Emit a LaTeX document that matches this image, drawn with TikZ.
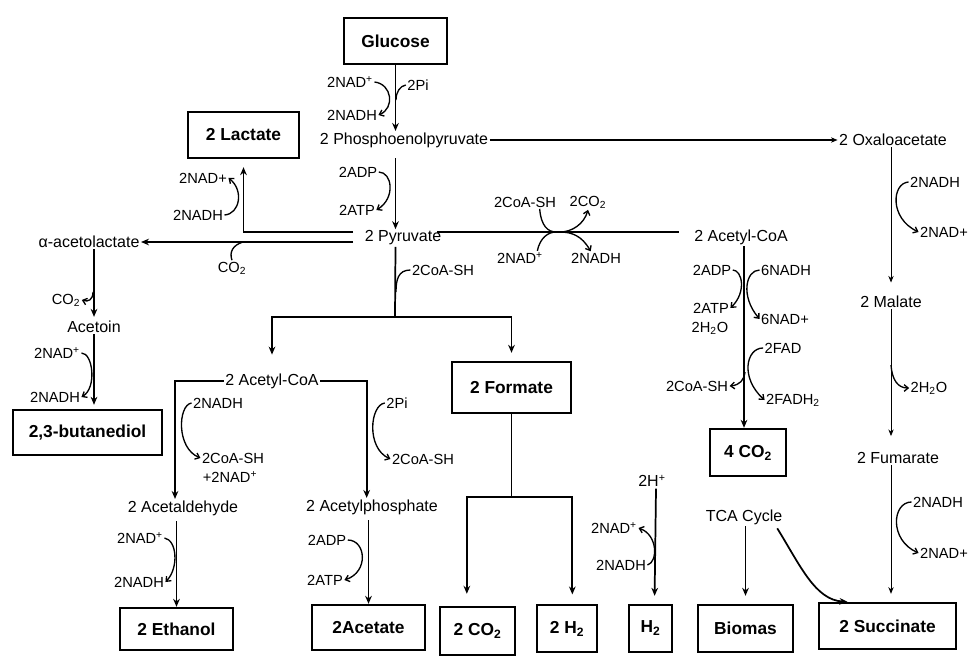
\documentclass[tikz,border=0pt]{standalone}
\usepackage{fontspec}
\setmainfont{Liberation Sans}
\usetikzlibrary{arrows.meta}
\begin{document}
\begin{tikzpicture}[x=0.75pt,y=-0.75pt,
 box/.style={draw, line width=1.8pt, inner sep=0pt, font=\fontsize{13}{15}\selectfont\bfseries},
 met/.style={inner sep=1pt, font=\fontsize{12}{14}\selectfont},
 cof/.style={inner sep=1pt, font=\fontsize{11}{13}\selectfont},
 main/.style={line width=1.3pt, -{Stealth[length=6pt,width=5pt]}},
 plain/.style={line width=1.3pt},
 thinar/.style={line width=0.6pt, -{Stealth[length=5pt,width=4pt]}},
 curv/.style={line width=1pt, -{Straight Barb[length=3pt,width=5pt]}},
 curvn/.style={line width=1pt}
]
\useasboundingbox (0,0) rectangle (970,660);
% boxes
\node[box, minimum width=77.25pt, minimum height=34.5pt] (glc) at (395.5,41) {Glucose};
\node[box, minimum width=83.25pt, minimum height=34.5pt] (lac) at (243.5,135) {2 Lactate};
\node[box, minimum width=111.75pt, minimum height=33.75pt] (but) at (87.5,432.5) {2,3-butanediol};
\node[box, minimum width=84.75pt, minimum height=31.5pt] (eth) at (176.5,629) {2 Ethanol};
\node[box, minimum width=84.75pt, minimum height=33.75pt] (ace) at (368.5,627.5) {2Acetate};
\node[box, minimum width=89.25pt, minimum height=38.25pt] (form) at (511.5,387.5) {2 Formate};
\node[box, minimum width=56.25pt, minimum height=36pt] (co2b) at (477.5,631) {2 CO\textsubscript{2}};
\node[box, minimum width=45pt, minimum height=35.25pt] (h2b) at (567,628.5) {2 H\textsubscript{2}};
\node[box, minimum width=32.25pt, minimum height=35.25pt] (h2) at (650.5,628.5) {H\textsubscript{2}};
\node[box, minimum width=57pt, minimum height=35.25pt] (co24) at (748,452.5) {4 CO\textsubscript{2}};
\node[box, minimum width=71.25pt, minimum height=35.25pt] (bio) at (745.5,628.5) {Biomas};
\node[box, minimum width=102.75pt, minimum height=34.5pt] (suc) at (887.5,626) {2 Succinate};
% metabolites
\node[met] (pep) at (404,140) {2 Phosphoenolpyruvate};
\node[met] (oaa) at (893,140) {2 Oxaloacetate};
\node[met] (pyr) at (403,238) {2 Pyruvate};
\node[met] (acl) at (89,242) {α-acetolactate};
\node[met] (actn) at (94,327) {Acetoin};
\node[met] (acoa1) at (741,237) {2 Acetyl-CoA};
\node[met] (acoa2) at (272,381) {2 Acetyl-CoA};
\node[met] (acald) at (183,508) {2 Acetaldehyde};
\node[met] (acp) at (372,507) {2 Acetylphosphate};
\node[met] (mal) at (891,302) {2 Malate};
\node[met] (fum) at (898,458) {2 Fumarate};
\node[met] (tca) at (744,517) {TCA Cycle};
\node[met] (hplus) at (652,481) {2H\textsuperscript{+}};
% cofactors
\node[cof] (nadA) at (350,82) {2NAD\textsuperscript{+}};
\node[cof] (piA) at (418,85) {2Pi};
\node[cof] (nadhA) at (352,115) {2NADH};
\node[cof] (adpA) at (358,172) {2ADP};
\node[cof] (atpA) at (357,210) {2ATP};
\node[cof] (nadB) at (203,178) {2NAD+};
\node[cof] (nadhB) at (198,215) {2NADH};
\node[cof] (co2A) at (232,268) {CO\textsubscript{2}};
\node[cof] (coaA) at (443,270) {2CoA-SH};
\node[cof] (coaB) at (525,202) {2CoA-SH};
\node[cof] (co2B) at (588,202) {2CO\textsubscript{2}};
\node[cof] (nadC) at (520,258) {2NAD\textsuperscript{+}};
\node[cof] (nadhC) at (596,258) {2NADH};
\node[cof] (adpR) at (712,270) {2ADP};
\node[cof] (nadhR) at (786,270) {6NADH};
\node[cof] (atpR) at (711,308) {2ATP};
\node[cof] (h2oR) at (710,328) {2H\textsubscript{2}O};
\node[cof] (nadR) at (785,319) {6NAD+};
\node[cof] (fadR) at (783,348) {2FAD};
\node[cof] (coaR) at (697,386) {2CoA-SH};
\node[cof] (fadhR) at (793,400) {2FADH\textsubscript{2}};
\node[cof] (nadhO) at (935,182) {2NADH};
\node[cof] (nadO) at (944,232) {2NAD+};
\node[cof] (h2oO) at (929,388) {2H\textsubscript{2}O};
\node[cof] (nadhF) at (938,502) {2NADH};
\node[cof] (nadF) at (944,553) {2NAD+};
\node[cof] (co2L) at (66,300) {CO\textsubscript{2}};
\node[cof] (nadL) at (57,353) {2NAD\textsuperscript{+}};
\node[cof] (nadhL) at (55,397) {2NADH};
\node[cof] (nadhE) at (218,403) {2NADH};
\node[cof] (coaE) at (233,458) {2CoA-SH};
\node[cof] (nadE) at (230,477) {+2NAD\textsuperscript{+}};
\node[cof] (piP) at (397,403) {2Pi};
\node[cof] (coaP) at (423,459) {2CoA-SH};
\node[cof] (nadEt) at (140,538) {2NAD\textsuperscript{+}};
\node[cof] (nadhEt) at (139,582) {2NADH};
\node[cof] (adpP) at (327,540) {2ADP};
\node[cof] (atpP) at (325,580) {2ATP};
\node[cof] (nadH) at (614,528) {2NAD\textsuperscript{+}};
\node[cof] (nadhH) at (621,565) {2NADH};
% coordinates
\coordinate (pl1) at (353,232);
\coordinate (pl2) at (353,242);
\coordinate (c1) at (243,242);
\coordinate (pr1) at (437,232);
\coordinate (x1) at (556,232);
\coordinate (x2) at (560,232);
\coordinate (j1) at (395,317);
\coordinate (f1) at (511.5,497);
\coordinate (r1) at (745,372);
\coordinate (o1) at (891,365);
\coordinate (l1) at (93,292);
% glycolysis
\draw[main] (glc.south) -- (glc.south |- pep.north);
\draw[curv] (nadA.east) .. controls (392,84) and (395,108) .. (nadhA.east);
\draw[curvn] (piA.west) .. controls (400,86) and (396,92) .. (396,100);
\draw[main, shorten <=7pt] (pep.south -| glc.south) -- (pyr.north -| glc.south);
\draw[curv] (adpA.east) .. controls (392,172) and (396,198) .. (atpA.east);
\draw[thinar, line width=1.1pt] (pep.east) -- (oaa.west);
% pyruvate branches
\draw[main, shorten >=6pt] (pl1) -| (lac.south);
\draw[curv] (nadhB.east) .. controls (240,214) and (244,190) .. (nadB.east);
\draw[main] (pl2) -- (acl.east);
\draw[curvn] (c1) .. controls (233,245) and (229,252) .. (co2A.north);
\draw[plain] (pr1) -- ([xshift=-10pt]acoa1.west |- pr1);
\draw[curvn] ([xshift=11pt]coaB.south) .. controls (541,226) and (548,232) .. (x1);
\draw[curvn] ([xshift=13pt]nadC.north) .. controls (540,238) and (548,232) .. (x1);
\draw[curv] (x2) .. controls (572,232) and (584,224) .. (co2B.south);
\draw[curv] (x2) .. controls (572,232) and (582,236) .. ([xshift=-4pt]nadhC.north);
\draw[plain] (pyr.south -| glc.south) -- (j1);
\draw[curvn] (coaA.west) .. controls (398,270) and (396,280) .. (396,292);
\draw[main, shorten >=13pt] (j1) -| (acoa2.north);
\draw[main, shorten >=6pt] (j1) -| (form.north);
% acetyl-CoA (left)
\draw[main] (acoa2.west) -| ([xshift=-6pt]acald.north);
\draw[main] (acoa2.east) -| ([xshift=-4pt]acp.north);
\draw[curv] (nadhE.west) .. controls (178,405) and (176,448) .. (coaE.west);
\draw[curv] (piP.west) .. controls (370,405) and (366,448) .. (coaP.west);
\draw[main, shorten <=3pt] (acald.south -| eth.north) -- (eth.north);
\draw[curv] (nadEt.east) .. controls (177,540) and (179,568) .. (nadhEt.east);
\draw[main, shorten <=3pt] (acp.south -| ace.north) -- (ace.north);
\draw[curv] (adpP.east) .. controls (366,540) and (369,572) .. (atpP.east);
% formate
\draw[plain] (form.south) -- (f1);
\draw[main, shorten >=9pt] (f1) -| ([xshift=-8pt]co2b.north);
\draw[main, shorten >=7pt] (f1) -| ([xshift=4pt]h2b.north);
% hydrogen
\draw[main, shorten >=6pt] ([xshift=3pt]hplus.south) -- ([xshift=3pt]h2.north);
\draw[curv] (nadhH.east) .. controls (658,562) and (658,535) .. (nadH.east);
% TCA
\draw[main, shorten >=6pt] (tca.south -| bio.north) -- (bio.north);
\draw[main, shorten <=2pt] ([xshift=-6pt]tca.south east) .. controls (800,565) and (815,600) .. ([xshift=-30pt]suc.north);
\draw[main] ([xshift=-3pt]acoa1.south -| co24.north) -- ([xshift=-3pt]co24.north);
\draw[curv] (adpR.east) .. controls (742,270) and (747,292) .. (atpR.east);
\draw[curv] (nadhR.west) .. controls (746,270) and (740,296) .. (nadR.west);
\draw[curv] (fadR.west) .. controls (746,348) and (740,378) .. (fadhR.west);
\draw[curv] (r1) .. controls (744,380) and (740,385) .. (coaR.east);
% oxaloacetate branch
\draw[thinar, shorten >=9pt] (oaa.south -| mal.north) -- (mal.north);
\draw[thinar, shorten >=11pt] (mal.south) -- (fum.north -| mal.south);
\draw[thinar, shorten >=6pt] (fum.south -| mal.south) -- (suc.north -| mal.south);
\draw[curv] (nadhO.west) .. controls (892,183) and (889,218) .. (nadO.west);
\draw[curv] (o1) .. controls (892,380) and (898,388) .. (h2oO.west);
\draw[curv] (nadhF.west) .. controls (892,502) and (889,540) .. (nadF.west);
% acetolactate branch
\draw[main, shorten >=2pt] (acl.south -| actn.north) -- (actn.north);
\draw[curv] (l1) .. controls (93,300) and (88,302) .. (co2L.east);
\draw[main, shorten >=3pt] (actn.south) -- (actn.south |- but.north);
\draw[curv] (nadL.east) .. controls (93,353) and (97,388) .. (nadhL.east);
\end{tikzpicture}
\end{document}
